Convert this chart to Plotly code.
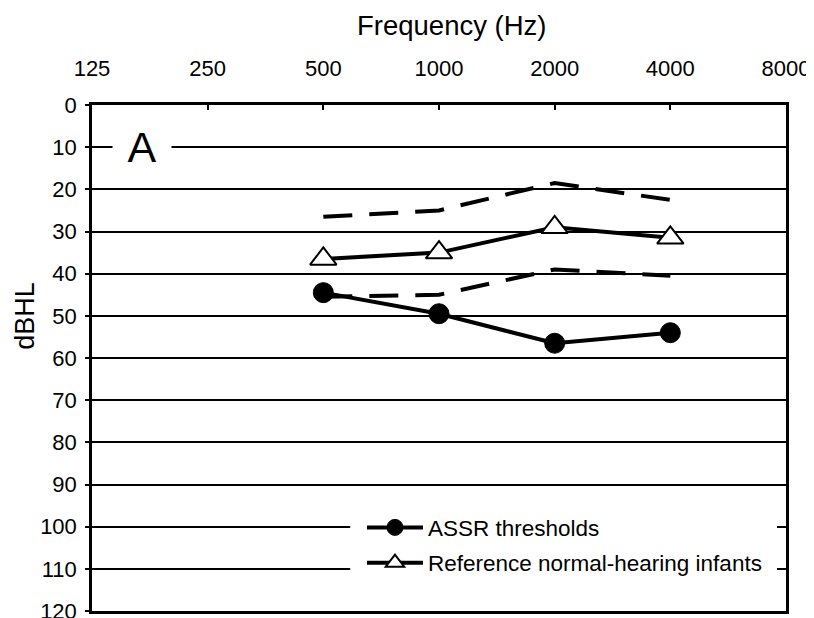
import math
import plotly.graph_objects as go

# ---- data ----
freqs = [500, 1000, 2000, 4000]
assr_thresholds = [44.5, 49.5, 56.5, 54.0]
ref_mean = [36.5, 35.0, 29.0, 31.5]
ref_upper = [26.5, 25.0, 18.5, 22.5]
ref_lower = [45.5, 45.0, 39.0, 40.5]

x_ticks = [125, 250, 500, 1000, 2000, 4000, 8000]
x_tick_labels = ["125", "250", "500", "1000", "2000", "4000", "8000"]
y_ticks = [0, 10, 20, 30, 40, 50, 60, 70, 80, 90, 100, 110, 120]
y_tick_labels = [str(v) for v in y_ticks]

FONT = "Arial, Liberation Sans, Helvetica, sans-serif"

fig = go.Figure()

dash_style = dict(color="black", width=4, dash="29px,17px")
fig.add_trace(go.Scatter(x=freqs, y=ref_upper, mode="lines", line=dash_style,
                         showlegend=False, hoverinfo="skip", legendgroup="b"))
fig.add_trace(go.Scatter(x=freqs, y=ref_lower, mode="lines", line=dash_style,
                         showlegend=False, hoverinfo="skip", legendgroup="b"))

fig.add_trace(go.Scatter(
    x=freqs, y=assr_thresholds, mode="lines+markers", name="ASSR thresholds",
    line=dict(color="black", width=4),
    marker=dict(symbol="circle", size=20, color="black", line=dict(color="black", width=1)),
    legendgroup="a", legendrank=1))
fig.add_trace(go.Scatter(
    x=freqs, y=ref_mean, mode="lines+markers", name="Reference normal-hearing infants",
    line=dict(color="black", width=4),
    marker=dict(symbol="triangle-up", size=23, color="white", line=dict(color="black", width=2)),
    legendgroup="b", legendrank=2))

# the page body adds an 8px margin, so the figure is 8px smaller on each axis
fig.update_layout(
    width=806, height=610,
    margin=dict(l=84, r=28, t=97, b=7, autoexpand=False),
    paper_bgcolor="white", plot_bgcolor="white",
    font=dict(family=FONT, size=22, color="black"),
    showlegend=True,
    legend=dict(x=0.389, y=0.207, xanchor="left", yanchor="top",
                bgcolor="rgba(0,0,0,0)", borderwidth=0,
                font=dict(size=22.5, family=FONT, color="black"),
                itemwidth=56, tracegroupgap=3, traceorder="grouped"),
    xaxis=dict(type="log", range=[math.log10(125), math.log10(8000)],
               side="top", tickvals=x_ticks, ticktext=x_tick_labels,
               ticks="inside", ticklen=5, tickwidth=2, tickcolor="black",
               showline=True, linecolor="black", linewidth=2.5, mirror=True,
               showgrid=False, zeroline=False, ticklabelstandoff=17,
               automargin=False, ticklabeloverflow="allow",
               tickfont=dict(size=22, family=FONT)),
    yaxis=dict(range=[120, 0], tickvals=y_ticks, ticktext=y_tick_labels,
               ticks="outside", ticklen=4, tickwidth=2, tickcolor="black",
               showline=True, linecolor="black", linewidth=2.5, mirror=True,
               showgrid=True, gridcolor="black", gridwidth=2, zeroline=False,
               automargin=False, ticklabeloverflow="allow",
               ticklabelstandoff=4, tickfont=dict(size=22, family=FONT)),
    shapes=[dict(type="rect", xref="paper", yref="y", x0=0.372, x1=0.987, y0=95, y1=115,
                 fillcolor="white", line=dict(width=0), layer="above")],
    annotations=[
        dict(text="Frequency (Hz)", xref="paper", yref="paper", x=0.519, y=1.158,
             xanchor="center", yanchor="middle", showarrow=False,
             font=dict(size=27.5, family=FONT)),
        dict(text="dBHL", xref="paper", yref="y", x=-0.0965, y=50, textangle=-90,
             xanchor="center", yanchor="middle", showarrow=False,
             font=dict(size=27, family=FONT)),
        dict(text="A", xref="paper", yref="y", x=0.072, y=10,
             xanchor="center", yanchor="middle", showarrow=False,
             bgcolor="white", width=56, height=44,
             font=dict(size=43, family=FONT)),
    ],
)

fig.write_html("out.html")
